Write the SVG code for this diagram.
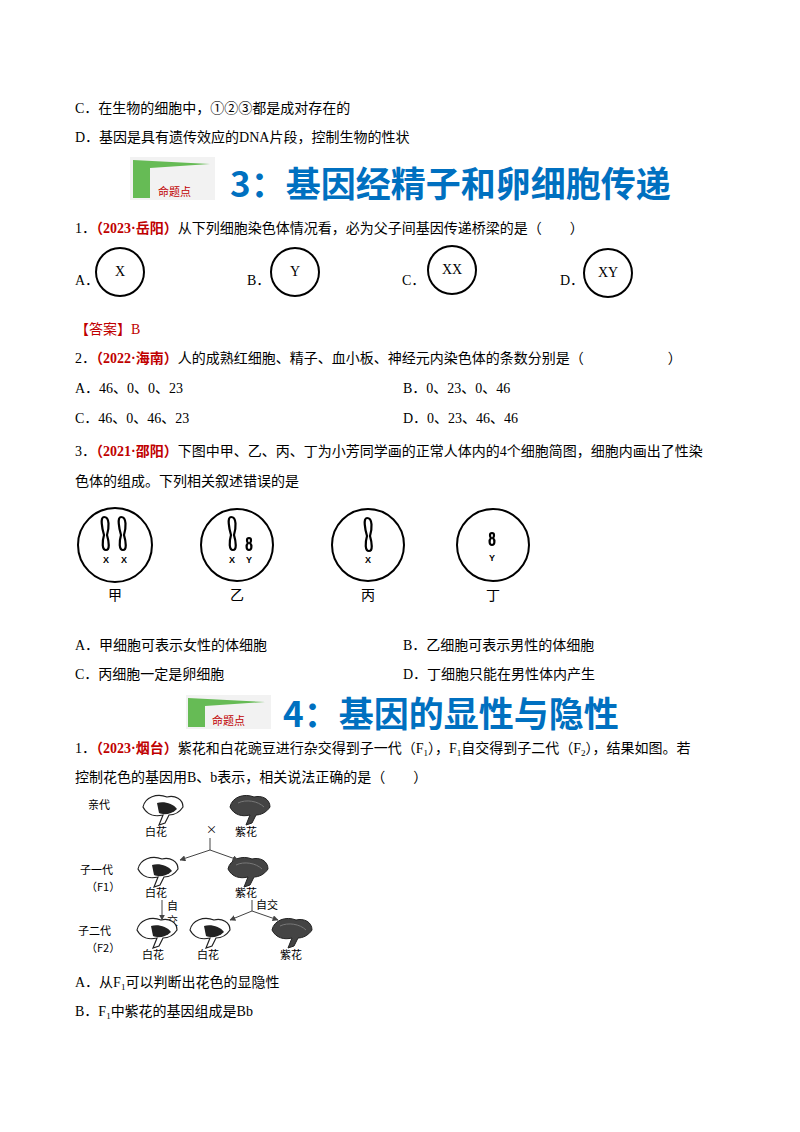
<svg xmlns="http://www.w3.org/2000/svg" width="800" height="1132" viewBox="0 0 800 1132">
<style>
text{font-family:"Liberation Serif","Noto Sans CJK SC",serif;font-size:14px;fill:#000}
.red{fill:#c00000;font-weight:bold}
.ttl{font-family:"Noto Sans CJK SC",sans-serif;font-size:35px;font-weight:bold;fill:#0070c0}
.tag{font-size:11px;fill:#c00000}
.c{fill:none;stroke:#000;stroke-width:2}
.ch{fill:none;stroke:#000;stroke-width:2.2}
.sm{font-family:"Liberation Sans",sans-serif;font-size:9px;font-weight:bold}
.fl{font-family:"Noto Sans CJK SC",sans-serif;font-size:11px}
.ln{stroke:#444;stroke-width:1;fill:none}
.w{fill:#fff;stroke:#222;stroke-width:1.2}
.p{fill:#444;stroke:#222;stroke-width:1}
</style>
<defs>
<marker id="ar" viewBox="0 0 10 10" refX="9" refY="5" markerWidth="6" markerHeight="6" orient="auto"><path d="M0,0L10,5L0,10z" fill="#444"/></marker>
<g id="wf"><path class="w" d="M0,12 C2,2 14,-2 24,2 C32,0 40,4 40,12 C36,18 30,20 26,20 L22,28 L16,30 L20,20 C12,22 4,20 0,12z"/><path d="M14,8 C20,6 30,8 34,14 C28,20 20,20 16,18z" fill="#222"/></g>
<g id="pf"><path class="p" d="M0,12 C2,2 14,-2 24,2 C32,0 40,4 40,12 C36,18 30,20 26,20 L22,28 L16,30 L20,20 C12,22 4,20 0,12z"/><path d="M8,8 C16,4 28,6 34,12" stroke="#777" fill="none"/></g>
</defs>
<rect width="800" height="1132" fill="#fff"/>
<text x="75" y="113">C．在生物的细胞中，①②③都是成对存在的</text>
<text x="75" y="142">D．基因是具有遗传效应的DNA片段，控制生物的性状</text>
<g id="banner3">
<rect x="130" y="157" width="85" height="43" fill="#f2f2f2"/>
<path d="M133,160 L210,164 L150,168 L150,198 L133,198z" fill="#66bb55"/>
<text x="158" y="196" class="tag">命题点</text>
<text x="230" y="197" class="ttl">3：基因经精子和卵细胞传递</text>
</g>
<text x="75" y="233">1．<tspan class="red">（2023·岳阳）</tspan>从下列细胞染色体情况看，必为父子间基因传递桥梁的是（　　）</text>
<g id="q1cells">
<text x="75" y="285">A．</text><circle class="c" cx="120" cy="272" r="24" stroke-width="1.3"/><text x="120" y="276" text-anchor="middle" font-size="12">X</text>
<text x="247" y="285">B．</text><circle class="c" cx="295" cy="272" r="24" stroke-width="1.3"/><text x="295" y="276" text-anchor="middle" font-size="12">Y</text>
<text x="402" y="285">C．</text><circle class="c" cx="452" cy="270" r="24" stroke-width="1.3"/><text x="452" y="274" text-anchor="middle" font-size="12">XX</text>
<text x="560" y="285">D．</text><circle class="c" cx="608" cy="273" r="24" stroke-width="1.3"/><text x="608" y="277" text-anchor="middle" font-size="12">XY</text>
</g>
<text x="75" y="334" style="fill:#c00000">【答案】B</text>
<text x="75" y="363">2．<tspan class="red">（2022·海南）</tspan>人的成熟红细胞、精子、血小板、神经元内染色体的条数分别是（　　　　　　）</text>
<text x="75" y="393">A．46、0、0、23</text><text x="403" y="393">B．0、23、0、46</text>
<text x="75" y="423">C．46、0、46、23</text><text x="403" y="423">D．0、23、46、46</text>
<text x="75" y="456">3．<tspan class="red">（2021·邵阳）</tspan>下图中甲、乙、丙、丁为小芳同学画的正常人体内的4个细胞简图，细胞内画出了性染</text>
<text x="75" y="486">色体的组成。下列相关叙述错误的是</text>
<g id="cell-jia"><circle class="c" cx="115" cy="545" r="37"/>
<path class="ch" d="M104,517 C100,517 102,528 104,535 C102,542 102,550 106,550 C110,550 109,542 107,535 C109,528 110,517 104,517z"/>
<path class="ch" d="M121,517 C117,517 119,528 121,535 C119,542 119,550 123,550 C127,550 126,542 124,535 C126,528 127,517 121,517z"/>
<text class="sm" x="106" y="563" text-anchor="middle">X</text><text class="sm" x="124" y="563" text-anchor="middle">X</text>
<text x="115" y="600" text-anchor="middle" font-size="17">甲</text></g>
<g id="cell-yi"><circle class="c" cx="237" cy="545" r="36"/>
<path class="ch" d="M231,517 C227,517 229,528 231,535 C229,542 229,550 233,550 C237,550 236,542 234,535 C236,528 237,517 231,517z"/>
<path class="ch" d="M249,538 C246,538 247,542 248,543 C246,545 246,550 249,550 C252,550 252,545 250,543 C251,542 252,538 249,538z"/>
<text class="sm" x="232" y="563" text-anchor="middle">X</text><text class="sm" x="249" y="563" text-anchor="middle">Y</text>
<text x="237" y="600" text-anchor="middle" font-size="17">乙</text></g>
<g id="cell-bing"><circle class="c" cx="368" cy="545" r="36"/>
<path class="ch" d="M367,518 C363,518 365,529 367,536 C365,543 365,551 369,551 C373,551 372,543 370,536 C372,529 373,518 367,518z"/>
<text class="sm" x="368" y="563" text-anchor="middle">X</text>
<text x="368" y="600" text-anchor="middle" font-size="17">丙</text></g>
<g id="cell-ding"><circle class="c" cx="493" cy="545" r="36"/>
<path class="ch" d="M492,533 C489,533 490,537 491,538 C489,540 489,545 492,545 C495,545 495,540 493,538 C494,537 495,533 492,533z"/>
<text class="sm" x="492" y="561" text-anchor="middle">Y</text>
<text x="493" y="600" text-anchor="middle" font-size="17">丁</text></g>
<text x="75" y="650">A．甲细胞可表示女性的体细胞</text><text x="403" y="650">B．乙细胞可表示男性的体细胞</text>
<text x="75" y="679">C．丙细胞一定是卵细胞</text><text x="403" y="679">D．丁细胞只能在男性体内产生</text>
<g id="banner4">
<rect x="186" y="695" width="85" height="34" fill="#f2f2f2"/>
<path d="M188,698 L265,702 L205,706 L205,727 L188,727z" fill="#66bb55"/>
<text x="212" y="725" class="tag">命题点</text>
<text x="283" y="727" class="ttl">4：基因的显性与隐性</text>
</g>
<text x="75" y="753">1．<tspan class="red">（2023·烟台）</tspan>紫花和白花豌豆进行杂交得到子一代（F<tspan font-size="9" dy="3">1</tspan><tspan dy="-3">），F</tspan><tspan font-size="9" dy="3">1</tspan><tspan dy="-3">自交得到子二代（F</tspan><tspan font-size="9" dy="3">2</tspan><tspan dy="-3">），结果如图。若</tspan></text>
<text x="75" y="782">控制花色的基因用B、b表示，相关说法正确的是（　　）</text>
<g id="cross">
<text class="fl" x="88" y="809">亲代</text>
<use href="#wf" x="143" y="795"/><use href="#pf" x="230" y="795"/>
<text class="fl" x="145" y="836">白花</text><text class="fl" x="235" y="836">紫花</text>
<text class="fl" x="206" y="834">×</text>
<text class="fl" x="80" y="874">子一代</text><text class="fl" x="86" y="891" font-size="9">（F1）</text>
<use href="#wf" x="138" y="857"/><use href="#pf" x="228" y="857"/>
<text class="fl" x="145" y="897">白花</text><text class="fl" x="235" y="897">紫花</text>
<text class="fl" x="167" y="910" font-size="10">自</text><text class="fl" x="167" y="925" font-size="10">交</text>
<text class="fl" x="256" y="909">自交</text>
<text class="fl" x="78" y="935">子二代</text><text class="fl" x="86" y="952" font-size="9">（F2）</text>
<use href="#wf" x="137" y="918"/><use href="#wf" x="190" y="918"/><use href="#pf" x="272" y="918"/>
<text class="fl" x="142" y="959">白花</text><text class="fl" x="197" y="959">白花</text><text class="fl" x="280" y="959">紫花</text>
</g>
<g id="connectors">
<path class="ln" d="M210,838 L210,850"/>
<path class="ln" marker-end="url(#ar)" d="M210,850 L180,860"/>
<path class="ln" marker-end="url(#ar)" d="M210,850 L238,860"/>
<path class="ln" marker-end="url(#ar)" d="M162,900 L162,920"/>
<path class="ln" d="M252,900 L252,911"/>
<path class="ln" marker-end="url(#ar)" d="M252,911 L230,920"/>
<path class="ln" marker-end="url(#ar)" d="M252,911 L278,920"/>
</g>
<text x="75" y="987">A．从F<tspan font-size="9" dy="3">1</tspan><tspan dy="-3">可以判断出花色的显隐性</tspan></text>
<text x="75" y="1016">B．F<tspan font-size="9" dy="3">1</tspan><tspan dy="-3">中紫花的基因组成是Bb</tspan></text>
</svg>
